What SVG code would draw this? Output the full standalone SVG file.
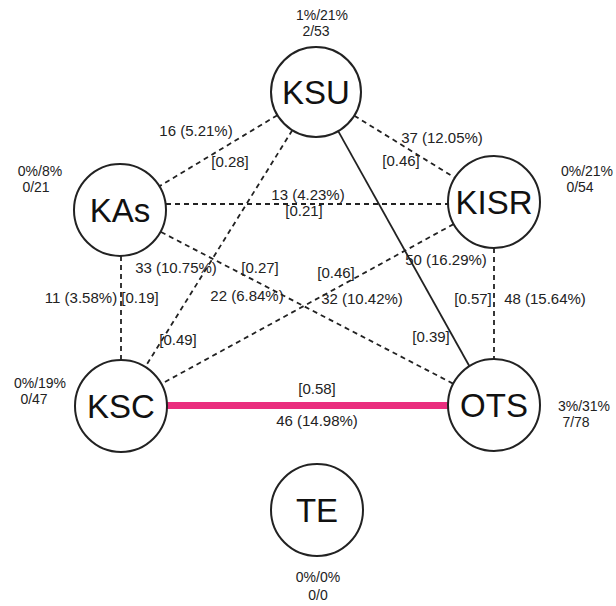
<svg xmlns="http://www.w3.org/2000/svg" width="616" height="606" viewBox="0 0 616 606">
  <style>
    .node circle { fill: #fff; stroke: #222; stroke-width: 2; }
    .node-label { font-family: "Liberation Sans", Arial, sans-serif; font-size: 33px; fill: #111; text-anchor: middle; }
    .lbl { font-family: "Liberation Sans", Arial, sans-serif; font-size: 15px; fill: #222; text-anchor: middle; }
    .side { font-family: "Liberation Sans", Arial, sans-serif; font-size: 14px; fill: #222; text-anchor: middle; }
    .dash { stroke: #222; stroke-width: 1.8; stroke-dasharray: 5 4; fill: none; }
    .solid { stroke: #222; stroke-width: 1.8; fill: none; }
    .strong { stroke: #ea2e7e; stroke-width: 7; fill: none; }
  </style>
  <rect width="616" height="606" fill="#fff"/>

  <g id="connectors">
    <line class="dash" x1="277.4" y1="115.2" x2="159.4" y2="186.3"/>
    <line class="dash" x1="354.3" y1="115.7" x2="454.9" y2="177.8"/>
    <line class="dash" x1="166" y1="204" x2="448" y2="204"/>
    <line class="dash" x1="161" y1="232" x2="453.2" y2="383.7"/>
    <line class="dash" x1="121" y1="256" x2="121" y2="360"/>
    <line class="dash" x1="292.3" y1="130.2" x2="145.3" y2="366.9"/>
    <line class="dash" x1="453.6" y1="224.1" x2="161.4" y2="383.9"/>
    <line class="solid" x1="338.2" y1="131.1" x2="469.3" y2="366"/>
    <line class="dash" x1="494" y1="248" x2="494" y2="359"/>
    <line class="strong" x1="167" y1="405.5" x2="448" y2="405.5"/>

    <text class="lbl" x="196" y="136">16 (5.21%)</text>
    <text class="lbl" x="230" y="167">[0.28]</text>
    <text class="lbl" x="442" y="143">37 (12.05%)</text>
    <text class="lbl" x="401" y="166">[0.46]</text>
    <text class="lbl" x="308" y="200">13 (4.23%)</text>
    <text class="lbl" x="304" y="216">[0.21]</text>
    <text class="lbl" x="176" y="273">33 (10.75%)</text>
    <text class="lbl" x="260" y="273">[0.27]</text>
    <text class="lbl" x="81" y="303">11 (3.58%)</text>
    <text class="lbl" x="140" y="303">[0.19]</text>
    <text class="lbl" x="247" y="301">22 (6.84%)</text>
    <text class="lbl" x="178" y="345">[0.49]</text>
    <text class="lbl" x="336" y="278">[0.46]</text>
    <text class="lbl" x="362" y="304">32 (10.42%)</text>
    <text class="lbl" x="446" y="265">50 (16.29%)</text>
    <text class="lbl" x="431" y="342">[0.39]</text>
    <text class="lbl" x="473" y="304">[0.57]</text>
    <text class="lbl" x="545" y="304">48 (15.64%)</text>
    <text class="lbl" x="317" y="394">[0.58]</text>
    <text class="lbl" x="317" y="426">46 (14.98%)</text>
  </g>

  <g id="node-ksu" class="node">
    <circle cx="316" cy="92" r="45"/>
    <text class="node-label" x="316" y="104">KSU</text>
    <text class="side" x="322" y="20">1%/21%</text>
    <text class="side" x="316" y="36">2/53</text>
  </g>
  <g id="node-kas" class="node">
    <circle cx="120" cy="210" r="46"/>
    <text class="node-label" x="120" y="222">KAs</text>
    <text class="side" x="40" y="176">0%/8%</text>
    <text class="side" x="36" y="192">0/21</text>
  </g>
  <g id="node-kisr" class="node">
    <circle cx="494" cy="202" r="46"/>
    <text class="node-label" x="494" y="214">KISR</text>
    <text class="side" x="587" y="176">0%/21%</text>
    <text class="side" x="580" y="192">0/54</text>
  </g>
  <g id="node-ksc" class="node">
    <circle cx="121" cy="406" r="46"/>
    <text class="node-label" x="121" y="418">KSC</text>
    <text class="side" x="40" y="388">0%/19%</text>
    <text class="side" x="34" y="404">0/47</text>
  </g>
  <g id="node-ots" class="node">
    <circle cx="494" cy="405" r="46"/>
    <text class="node-label" x="494" y="417">OTS</text>
    <text class="side" x="584" y="411">3%/31%</text>
    <text class="side" x="576" y="427">7/78</text>
  </g>
  <g id="node-te" class="node">
    <circle cx="317" cy="510" r="46"/>
    <text class="node-label" x="317" y="522">TE</text>
    <text class="side" x="318" y="582">0%/0%</text>
    <text class="side" x="318" y="600">0/0</text>
  </g>
</svg>
